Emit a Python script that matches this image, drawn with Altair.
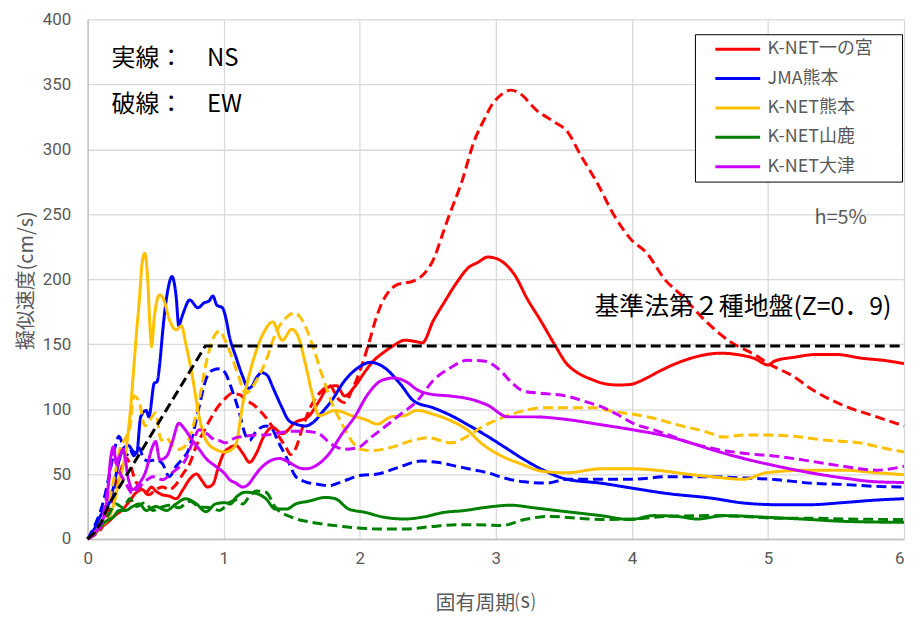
import altair as alt
import pandas as pd

stations = ["K-NET一の宮", "JMA熊本", "K-NET熊本", "K-NET山鹿", "K-NET大津"]
colors = ["#FF0000", "#0000FF", "#FFC000", "#008000", "#CC00FF"]

x_ticks = [0, 1, 2, 3, 4, 5, 6]
y_ticks = [0, 50, 100, 150, 200, 250, 300, 350, 400]

ichinomiya_ns = [(0,0),(0.05,4),(0.1,9),(0.15,13),(0.2,18),(0.25,22),(0.3,28),(0.35,35),(0.4,38),(0.43,36),(0.47,40),(0.5,37),(0.55,34),(0.6,33),(0.65,31),(0.7,38),(0.75,46),(0.8,50),(0.84,45),(0.88,40),(0.92,42),(0.96,55),(1.0,66),(1.04,70),(1.09,72),(1.14,66),(1.19,59),(1.24,66),(1.29,78),(1.36,86),(1.43,81),(1.53,90),(1.62,94),(1.70,106),(1.77,117),(1.83,118),(1.89,110),(1.96,117),(2.04,129),(2.1,137),(2.18,144),(2.25,149),(2.33,153),(2.41,152),(2.46,151),(2.54,168),(2.62,182),(2.71,197),(2.8,209),(2.87,213),(2.94,217),(3.0,216),(3.04,214),(3.14,203),(3.23,185),(3.33,168),(3.43,150),(3.52,135),(3.6,128),(3.7,123),(3.8,119.5),(3.9,118.5),(3.99,119),(4.05,121),(4.11,124),(4.2,129),(4.3,134),(4.4,138),(4.5,141),(4.65,143),(4.8,141.5),(4.9,139),(5.0,134),(5.05,137),(5.2,140),(5.35,142),(5.5,142),(5.7,139),(5.85,137.5),(6.0,135)]
ichinomiya_ew = [(0,0),(0.05,3),(0.1,8),(0.15,20),(0.2,38),(0.25,55),(0.28,63),(0.31,58),(0.35,45),(0.4,38),(0.45,34),(0.5,38),(0.55,40),(0.6,38),(0.65,42),(0.7,50),(0.75,58),(0.8,72),(0.85,82),(0.9,92),(0.96,102),(1.01,108),(1.06,112),(1.12,111),(1.16,107),(1.21,104),(1.29,96),(1.38,83),(1.46,70),(1.49,65),(1.53,70),(1.58,86),(1.65,104),(1.72,114),(1.78,118),(1.84,108),(1.89,105),(1.94,114),(2.01,132),(2.07,152),(2.12,170),(2.16,181),(2.21,190),(2.26,195),(2.32,197),(2.38,198),(2.44,201),(2.48,205),(2.55,217),(2.6,232),(2.65,247),(2.75,275),(2.84,306),(2.92,324),(2.97,334),(3.04,342),(3.11,345.5),(3.16,344),(3.21,340),(3.26,334),(3.31,329),(3.37,325),(3.43,321),(3.53,313),(3.62,296),(3.74,275),(3.87,249),(3.99,231),(4.11,220),(4.24,200),(4.38,186),(4.53,169),(4.72,152),(4.9,142),(5.02,134),(5.19,125),(5.31,116),(5.55,103),(5.8,94),(6.0,87)]
jma_ns = [(0,0),(0.05,8),(0.09,17),(0.13,24),(0.16,28),(0.2,45),(0.23,60),(0.26,69),(0.3,72),(0.33,68),(0.36,66),(0.39,94),(0.43,99),(0.45,94),(0.49,120),(0.51,121),(0.53,135),(0.55,158),(0.57,178),(0.59,192),(0.62,202),(0.65,187),(0.67,164),(0.69,170),(0.71,176),(0.75,184),(0.81,178),(0.86,182),(0.89,183),(0.92,187),(0.95,180),(0.99,178),(1.02,168),(1.04,157),(1.09,140),(1.14,125),(1.18,116),(1.21,118),(1.24,124),(1.28,128),(1.32,126),(1.36,117),(1.42,103),(1.48,91),(1.53,88.5),(1.6,87),(1.66,90),(1.72,97),(1.79,106),(1.89,122),(1.99,132),(2.08,136),(2.18,132),(2.3,119),(2.4,106),(2.54,101),(2.69,94),(2.81,87),(2.94,79),(3.06,71),(3.21,61),(3.35,53),(3.52,46),(3.77,43),(4.01,39),(4.26,35),(4.58,31.5),(4.82,27.7),(5.07,26.4),(5.31,26.4),(5.55,28),(5.8,30),(6.0,31)]
jma_ew = [(0,0),(0.05,10),(0.09,20),(0.13,35),(0.17,55),(0.2,70),(0.23,79),(0.26,72),(0.29,65),(0.31,69),(0.34,64),(0.38,70),(0.41,62),(0.45,60),(0.5,61),(0.55,58),(0.6,48),(0.65,56),(0.7,62),(0.74,68),(0.77,79),(0.82,102),(0.87,123),(0.92,130),(0.97,131),(1.01,128),(1.06,115),(1.11,99),(1.16,80),(1.19,76),(1.24,83),(1.31,87),(1.36,84),(1.4,75),(1.46,63),(1.53,48),(1.6,44),(1.7,42),(1.77,41),(1.89,45),(2.01,49),(2.13,50),(2.28,55),(2.45,60),(2.57,59),(2.71,56),(2.85,53),(2.94,51),(3.06,47),(3.21,44),(3.38,43),(3.52,46),(3.77,46),(4.01,46),(4.26,48),(4.5,48),(4.82,47),(5.07,45.6),(5.31,43),(5.55,42),(5.8,40.5),(6.0,40)]
kumamoto_ns = [(0,0),(0.05,5),(0.1,10),(0.16,17),(0.2,30),(0.23,45),(0.26,56),(0.29,75),(0.31,94),(0.34,133),(0.36,160),(0.38,184),(0.40,212),(0.42,220),(0.44,202),(0.46,160),(0.47,148),(0.49,171),(0.53,188),(0.56,184),(0.6,169),(0.65,161),(0.69,164),(0.72,151),(0.77,125),(0.82,94),(0.87,76),(0.94,69),(1.01,67),(1.06,69),(1.09,73),(1.14,104),(1.21,135),(1.29,158),(1.36,167),(1.43,153),(1.5,161.5),(1.55,155),(1.6,135),(1.65,112),(1.7,95),(1.82,99),(1.94,95),(2.04,92),(2.13,88.5),(2.23,94),(2.33,95),(2.42,99),(2.54,96),(2.67,91),(2.79,84),(2.89,74),(3.04,64),(3.18,58),(3.35,52),(3.52,51),(3.77,54),(4.01,54),(4.26,52),(4.4,50),(4.58,48),(4.82,46),(4.99,51),(5.31,53),(5.55,53),(5.8,51),(6.0,49.5)]
kumamoto_ew = [(0,0),(0.05,5),(0.1,12),(0.16,30),(0.2,50),(0.24,70),(0.28,78),(0.31,85),(0.34,110),(0.38,105),(0.42,87),(0.46,92),(0.5,97),(0.54,76),(0.58,78),(0.62,72),(0.67,69),(0.72,72),(0.77,85),(0.82,107),(0.87,135),(0.93,156),(0.97,160),(1.01,153),(1.06,140),(1.11,125),(1.16,112),(1.19,114),(1.24,122),(1.31,137),(1.38,158),(1.46,170.5),(1.52,174),(1.58,168),(1.65,150),(1.72,127),(1.79,106),(1.87,88.5),(1.94,75.6),(2.01,69),(2.08,68),(2.23,70.5),(2.38,75.6),(2.5,78),(2.67,74),(2.79,79),(2.91,87),(3.04,93),(3.18,98),(3.35,101),(3.52,101),(3.72,101),(3.87,98),(4.01,96),(4.16,93),(4.33,88),(4.53,83),(4.68,78.5),(4.82,80),(4.99,80),(5.19,79),(5.43,76),(5.68,74),(5.85,70),(6.0,67)]
yamaga_ns = [(0,0),(0.05,5),(0.09,9.5),(0.14,14),(0.19,17),(0.23,22),(0.28,22),(0.33,25),(0.38,27),(0.43,22),(0.5,25),(0.58,22),(0.65,27),(0.72,31),(0.8,27),(0.87,21),(0.94,27),(1.01,28),(1.05,27),(1.09,32),(1.16,36),(1.24,35),(1.31,31),(1.38,23),(1.46,23),(1.53,27),(1.62,29),(1.75,32),(1.82,31),(1.92,23),(2.04,20.5),(2.18,16.7),(2.33,15.4),(2.47,17),(2.62,20.5),(2.76,21.8),(2.93,24.4),(3.11,26),(3.28,24),(3.52,21),(3.77,18),(3.99,15),(4.16,18),(4.33,17.4),(4.48,15.4),(4.68,18),(4.99,16.7),(5.31,15),(5.55,13.6),(6.0,12.8)]
yamaga_ew = [(0,0),(0.05,4),(0.1,10),(0.15,18),(0.21,27),(0.26,24),(0.31,31),(0.36,25),(0.42,28),(0.48,22),(0.53,24),(0.6,26),(0.67,24),(0.75,29),(0.82,25),(0.9,24),(0.97,22),(1.04,28),(1.09,30),(1.14,27),(1.19,33),(1.24,37),(1.31,36),(1.38,24.4),(1.5,16.7),(1.65,12.8),(1.82,10.3),(1.99,8.5),(2.13,7.7),(2.33,7.7),(2.52,9.5),(2.71,11),(2.93,10.8),(3.04,10.3),(3.21,15),(3.40,17.4),(3.6,16),(3.77,15),(4.01,15.4),(4.26,17.4),(4.58,18),(4.82,17.4),(5.07,16),(5.31,16),(5.55,15.4),(6.0,15)]
otsu_ns = [(0,0),(0.05,5),(0.1,12),(0.14,28),(0.17,63),(0.19,71),(0.21,58),(0.24,65),(0.26,69),(0.3,46),(0.33,38),(0.38,43),(0.43,53),(0.47,69),(0.5,75),(0.53,61),(0.58,63.6),(0.62,74),(0.67,89),(0.71,85),(0.77,76),(0.82,69),(0.87,62),(0.94,56),(1.01,50),(1.04,46),(1.09,43),(1.14,40),(1.19,43),(1.21,46),(1.26,53),(1.31,58),(1.36,61),(1.41,62),(1.48,59),(1.55,55),(1.6,54),(1.67,56),(1.77,65),(1.87,81),(1.96,93.6),(2.06,111.5),(2.16,122),(2.25,124),(2.35,120.5),(2.42,115),(2.52,111.5),(2.67,110),(2.81,107.7),(2.94,103),(3.09,94),(3.28,94),(3.52,92),(3.77,88),(4.01,84),(4.26,79),(4.4,75),(4.58,69),(4.82,62),(5.07,56),(5.31,51),(5.55,47),(5.8,44),(6.0,43.5)]
otsu_ew = [(0,0),(0.05,4),(0.1,12),(0.15,40),(0.19,69),(0.23,53),(0.28,43),(0.33,35),(0.38,40),(0.43,45),(0.48,48),(0.55,45.6),(0.62,51),(0.67,55),(0.72,61),(0.77,74),(0.82,84),(0.87,81.5),(0.94,76),(0.97,75.6),(1.01,74),(1.09,78),(1.16,79),(1.23,80),(1.3,80),(1.4,81.5),(1.5,83),(1.6,83),(1.7,81),(1.79,73),(1.89,69),(1.99,70.5),(2.08,78),(2.18,86),(2.3,96),(2.42,106),(2.54,122),(2.67,132),(2.79,137.5),(2.91,137),(3.04,129),(3.11,121),(3.21,113.6),(3.35,112),(3.52,110),(3.65,106),(3.77,102),(3.89,96),(4.01,89),(4.16,84),(4.3,79),(4.4,75),(4.58,70),(4.82,66),(5.07,63.6),(5.31,60),(5.55,56),(5.8,53),(6.0,56)]
standard_t = [0, 0.05, 0.1, 0.16, 0.864, 6.0]
standard_v = [0, 5, 13, 27.5, 148.5, 148.5]

series = [
    ("K-NET一の宮", "NS", ichinomiya_ns), ("K-NET一の宮", "EW", ichinomiya_ew),
    ("JMA熊本", "NS", jma_ns), ("JMA熊本", "EW", jma_ew),
    ("K-NET熊本", "NS", kumamoto_ns), ("K-NET熊本", "EW", kumamoto_ew),
    ("K-NET山鹿", "NS", yamaga_ns), ("K-NET山鹿", "EW", yamaga_ew),
    ("K-NET大津", "NS", otsu_ns), ("K-NET大津", "EW", otsu_ew),
]
rows = []
for st, comp, pts in series:
    for t, v in pts:
        rows.append({"station": st, "comp": comp, "series": st + comp, "t": t, "v": v})
df = pd.DataFrame(rows)
std_df = pd.DataFrame({"t": standard_t, "v": standard_v})

FONT = "Noto Sans CJK JP"
GRAY = "#595959"

x_enc = alt.X("t:Q", scale=alt.Scale(domain=[0, 6], nice=False),
              axis=alt.Axis(values=x_ticks, title="固有周期⒮", format="d", labelFlush=False,
                            labelAlign={"condition": {"test": "datum.value == 6", "value": "right"},
                                        "value": "center"}))
y_enc = alt.Y("v:Q", scale=alt.Scale(domain=[0, 400], nice=False),
              axis=alt.Axis(values=y_ticks, title="擬似速度(cm/s)", labelFlush=False))

lines = alt.Chart(df).mark_line(strokeWidth=3, interpolate="monotone").encode(
    x=x_enc, y=y_enc,
    color=alt.Color("station:N", scale=alt.Scale(domain=stations, range=colors),
                    legend=alt.Legend(title="\u00a0", titleOrient="right", titleFontSize=4,
                                      titlePadding=23, orient="none", legendX=610, legendY=15,
                                      symbolType="stroke", symbolStrokeWidth=3, symbolSize=2025,
                                      clipHeight=18, rowPadding=11.5, padding=6,
                                      symbolOffset=13, labelOffset=6,
                                      labelFontSize=18, labelColor=GRAY, labelFont=FONT,
                                      strokeColor="black", fillColor="white")),
    strokeDash=alt.StrokeDash("comp:N", scale=alt.Scale(domain=["NS", "EW"], range=[[1, 0], [10, 5]]),
                              legend=None),
    detail="series:N",
)

std_line = alt.Chart(std_df).mark_line(color="black", strokeWidth=3, strokeDash=[10, 5]).encode(
    x="t:Q", y="v:Q")

def note(text, x, y, size, color="black"):
    return alt.Chart(pd.DataFrame({"a": [0]})).mark_text(
        text=text, align="left", baseline="middle", fontSize=size, font=FONT, color=color
    ).encode(x=alt.value(x), y=alt.value(y))

chart = alt.layer(
    lines, std_line,
    note("実線：\u3000NS", 24, 40, 24),
    note("破線：\u3000EW", 24, 86, 24),
    note("h=5%", 730, 200, 20, GRAY),
    note("基準法第２種地盤(Z=0．9)", 509, 289, 25),
).properties(
    width=820, height=522,
    autosize=alt.AutoSizeParams(type="none"),
    padding={"left": 80, "top": 10, "right": 2, "bottom": 80},
).configure_view(strokeWidth=0).configure_axis(
    grid=True, gridColor="#D9D9D9", gridWidth=1.3,
    domainColor="#BFBFBF", domainWidth=1.3, ticks=False,
    labelFont="Roboto", labelFontSize=17, labelColor=GRAY,
    titleFont=FONT, titleFontSize=20, titleColor=GRAY, titleFontWeight="normal",
).configure_axisX(
    labelPadding=12, titleX=399, titleY=65, titleBaseline="middle", titleAlign="center", titleAnchor="middle"
).configure_axisY(
    labelPadding=17, titleX=-61, titleY=262, titleBaseline="middle", titleAlign="center", titleAngle=270
)

chart.save("out.html", embed_options={"renderer": "svg", "actions": False})
